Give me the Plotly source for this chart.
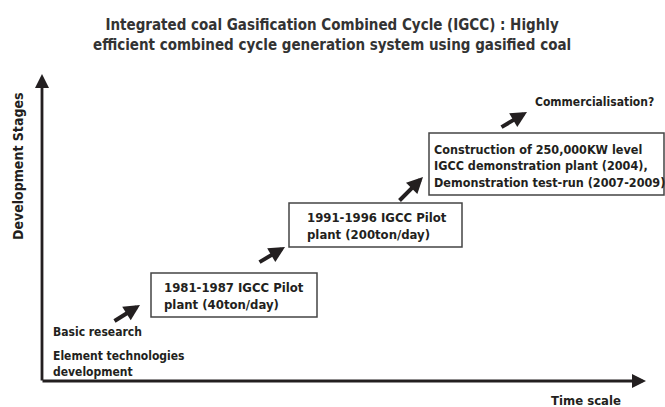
import plotly.graph_objects as go

# ---- content ----
title_lines = ["Integrated coal Gasification Combined Cycle (IGCC) : Highly",
               "efficient combined cycle generation system using gasified coal"]
y_axis_label = "Development Stages"
x_axis_label = "Time scale"
stage_labels = [
    "1981-1987 IGCC Pilot<br>plant (40ton/day)",
    "1991-1996 IGCC Pilot<br>plant (200ton/day)",
    "Construction of 250,000KW level<br>IGCC demonstration plant (2004),<br>Demonstration test-run (2007-2009)",
]
start_labels = ["Basic research", "Element technologies<br>development"]
end_label = "Commercialisation?"

# ---- layout (diagram units = pixels of a 665x407 canvas) ----
FONT = "DejaVu Sans Condensed, Liberation Sans Narrow, sans-serif"
INK = "#231f20"
boxes = [(151, 273, 317, 317), (289, 203, 462, 247), (429, 133, 664, 195)]
box_text_pos = [(162, 296), (305, 226), (432, 166)]
box_text_size = [13, 13, 12.5]
arrows = [((113, 322), (140, 305)), ((258, 263), (285, 247)),
          ((398, 202), (423, 177)), ((500, 128), (527, 112))]

fig = go.Figure()
fig.add_trace(go.Scatter(x=[0], y=[0], mode="markers", marker=dict(opacity=0),
                         hoverinfo="skip", showlegend=False))

ann = []
shapes = []
# axes
ann.append(dict(x=42, y=74, ax=42, ay=382, xref="x", yref="y", axref="x", ayref="y",
                showarrow=True, arrowhead=2, arrowsize=1.0, arrowwidth=2.8, arrowcolor=INK, text=""))
ann.append(dict(x=646, y=381, ax=41, ay=381, xref="x", yref="y", axref="x", ayref="y",
                showarrow=True, arrowhead=2, arrowsize=1.0, arrowwidth=2.8, arrowcolor=INK, text=""))
# axis labels
ann.append(dict(x=18, y=167, xref="x", yref="y", text="<b>%s</b>" % y_axis_label, textangle=-90,
                showarrow=False, font=dict(family=FONT, size=14, color=INK)))
ann.append(dict(x=549, y=400, xref="x", yref="y", text="<b>%s</b>" % x_axis_label, xanchor="left",
                showarrow=False, font=dict(family=FONT, size=13, color=INK)))
# title
ann.append(dict(x=332, y=35, xref="x", yref="y", text="<b>" + "<br>".join(title_lines) + "</b>",
                showarrow=False, font=dict(family=FONT, size=15, color="#333333")))
# boxes
for (x0, y0, x1, y1), lab, (tx, ty), fs in zip(boxes, stage_labels, box_text_pos, box_text_size):
    shapes.append(dict(type="rect", x0=x0, y0=y0, x1=x1, y1=y1, xref="x", yref="y",
                       line=dict(color="#444444", width=1.5), fillcolor="rgba(0,0,0,0)"))
    ann.append(dict(x=tx, y=ty, xref="x", yref="y", text="<b>%s</b>" % lab, xanchor="left",
                    yanchor="middle", align="left", showarrow=False,
                    font=dict(family=FONT, size=fs, color=INK)))
# start labels
ann.append(dict(x=51, y=332, xref="x", yref="y", text="<b>%s</b>" % start_labels[0], xanchor="left",
                align="left", showarrow=False, font=dict(family=FONT, size=12, color=INK)))
ann.append(dict(x=51, y=364, xref="x", yref="y", text="<b>%s</b>" % start_labels[1], xanchor="left",
                align="left", showarrow=False, font=dict(family=FONT, size=12, color=INK)))
ann.append(dict(x=533, y=102, xref="x", yref="y", text="<b>%s</b>" % end_label, xanchor="left",
                align="left", showarrow=False, font=dict(family=FONT, size=12, color=INK)))
# stage arrows
for (tail, tip) in arrows:
    ann.append(dict(x=tip[0], y=tip[1], ax=tail[0], ay=tail[1], xref="x", yref="y",
                    axref="x", ayref="y", showarrow=True, arrowhead=2, arrowsize=0.8,
                    arrowwidth=4, arrowcolor=INK, text=""))

fig.update_layout(width=665, height=407, margin=dict(l=0, r=0, t=0, b=0),
                  plot_bgcolor="white", paper_bgcolor="white",
                  xaxis=dict(range=[0, 665], visible=False, fixedrange=True),
                  yaxis=dict(range=[407, 0], visible=False, fixedrange=True),
                  annotations=ann, shapes=shapes, showlegend=False)
fig.write_html("out.html", post_script="document.body.style.margin='0';",
               config={"displayModeBar": False})
